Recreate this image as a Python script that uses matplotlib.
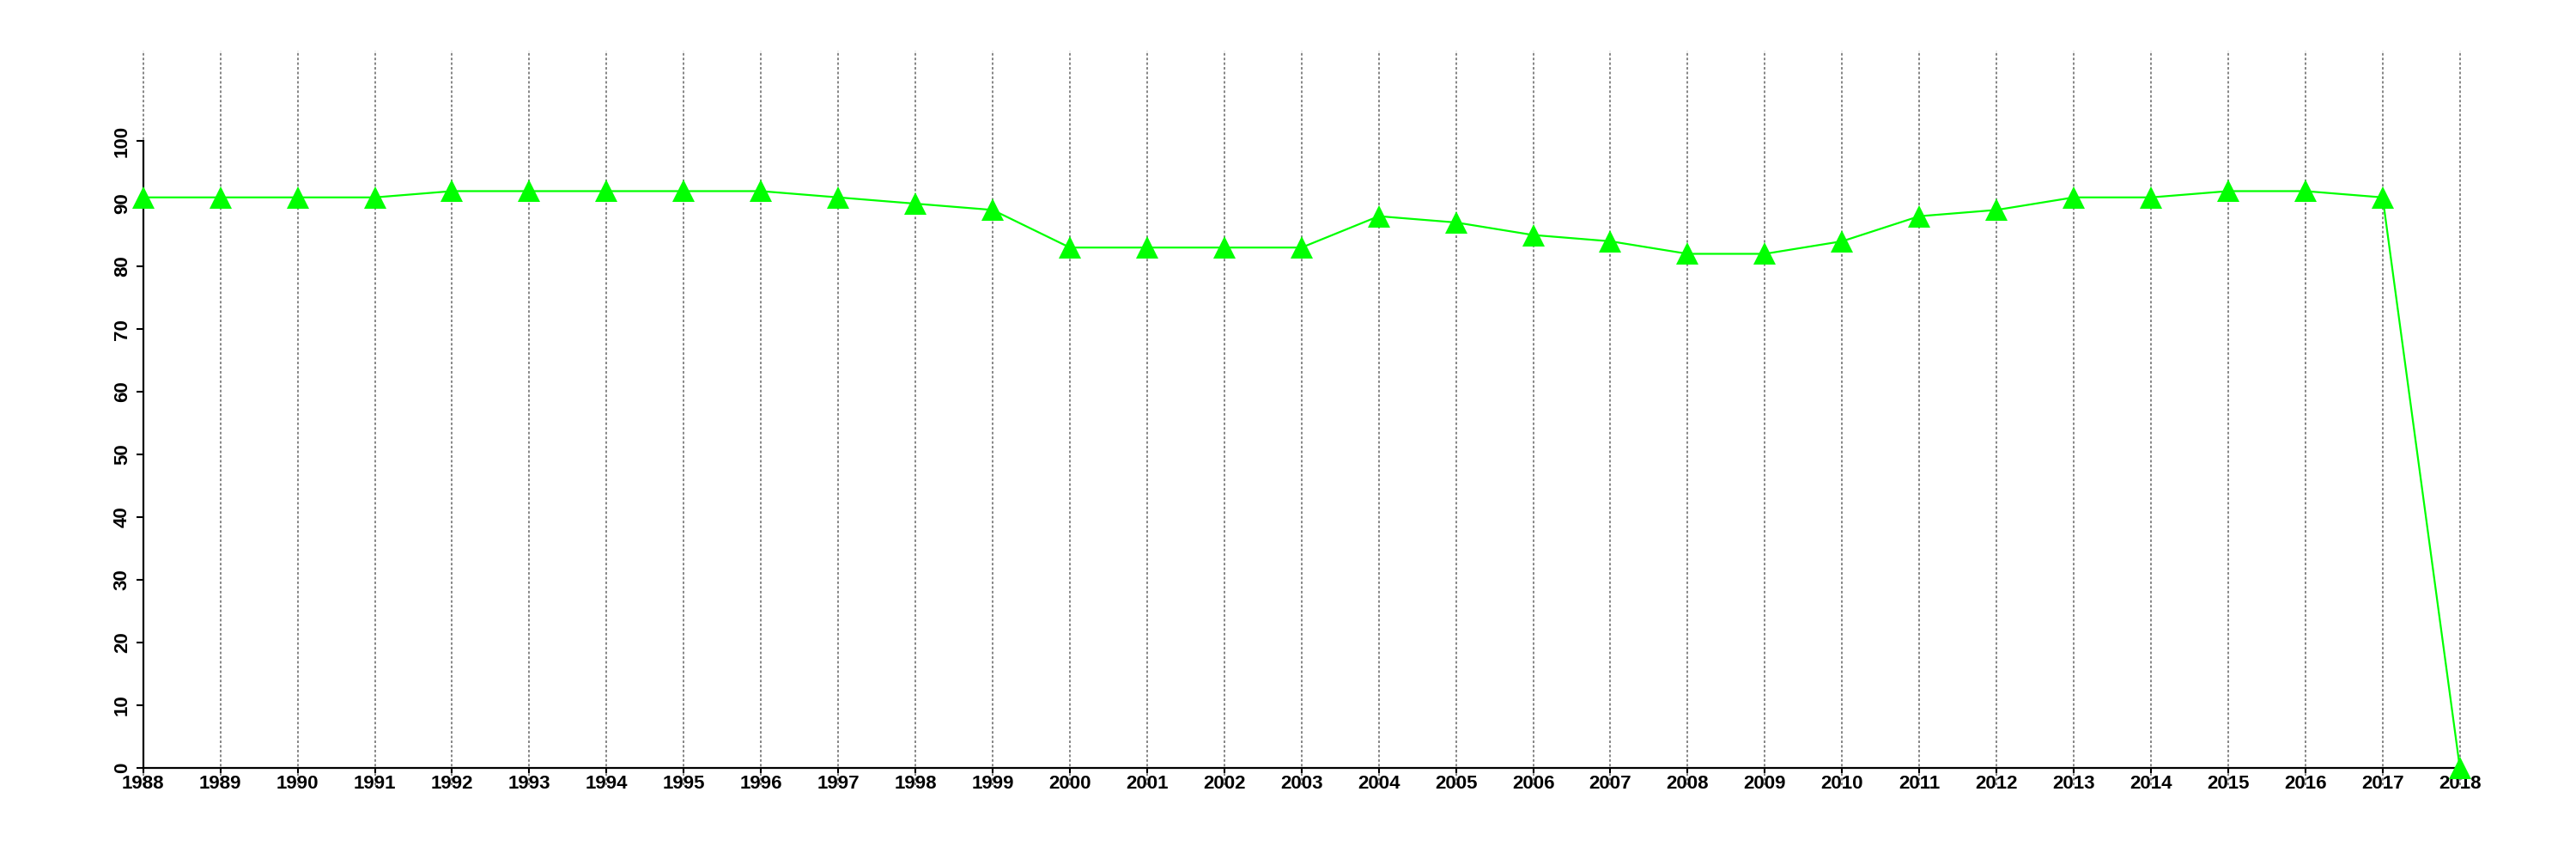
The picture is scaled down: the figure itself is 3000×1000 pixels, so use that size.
import numpy as np
from matplotlib import pyplot as plt

years  = list(range(1988, 2019))
values = [91, 91, 91, 91, 92, 92, 92, 92, 92, 91,
          90, 89, 83, 83, 83, 83, 88, 87, 85, 84,
          82, 82, 84, 88, 89, 91, 91, 92, 92, 91,
          0]
yticks = list(range(0, 101, 10))

plt.rcParams['font.family'] = ['Liberation Sans', 'DejaVu Sans']

fig = plt.figure(figsize=(30, 10), dpi=100)
ax = fig.add_axes([0.0256, 0.086, 0.9593, 0.855])

# grid lines drawn over the whole plot region like abline(v=...)
for yr in years:
    ax.axvline(yr, color='#858585', lw=1.4, ls=(0, (1.5, 1.3)), zorder=1)

ax.plot(years, values, color='#00ff00', lw=1.6, marker='^', ms=19,
        markeredgewidth=0, zorder=3, clip_on=False)

ax.set_xlim(1987, 2019)
ax.set_ylim(-2.74, 114.4)

for s in ['top', 'right']:
    ax.spines[s].set_visible(False)
ax.spines['left'].set_bounds(0, 100)
ax.spines['bottom'].set_bounds(1988, 2018)
ax.spines['left'].set_position(('data', 1988))
ax.spines['bottom'].set_position(('data', 0))
for s in ['left', 'bottom']:
    ax.spines[s].set_linewidth(1.6)

ax.set_xticks(years)
ax.set_xticklabels([str(y) for y in years], fontsize=16, fontweight='bold')
ax.set_yticks(yticks)
ax.set_yticklabels([str(v) for v in yticks], fontsize=16, fontweight='bold',
                   rotation=90, va='center')
ax.tick_params(axis='x', length=4, width=1.5, pad=2)
ax.tick_params(axis='y', length=6, width=1.5, pad=4)

fig.savefig('out.png', dpi=100)
